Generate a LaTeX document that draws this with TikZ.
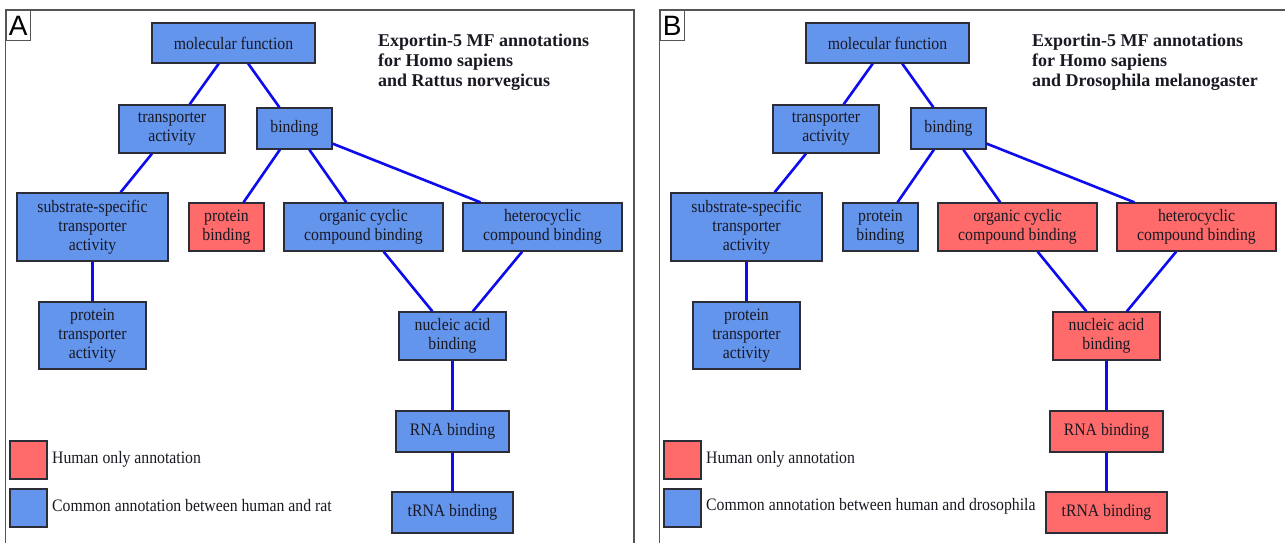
\documentclass[tikz,border=0pt]{standalone}
\usepackage{fontspec}
\setmainfont{Liberation Serif}[FakeStretch=0.9]
\newfontfamily\headfont{Liberation Serif}
\newfontfamily\panelfont{Liberation Sans}

\definecolor{commonfill}{RGB}{100,149,237}
\definecolor{humanfill}{RGB}{255,106,106}
\definecolor{edgeblue}{RGB}{12,12,238}
\definecolor{termline}{RGB}{45,45,55}
\definecolor{framegray}{RGB}{85,85,85}
\definecolor{inktext}{RGB}{25,25,35}

\tikzset{
  term/.style={draw=termline, line width=1.3pt, inner sep=0pt, align=center,
    text=inktext, font=\fontsize{17.5}{19}\selectfont},
  sharedterm/.style={term, fill=commonfill},
  humanterm/.style={term, fill=humanfill},
  link/.style={draw=edgeblue, line width=2.6pt},
  framestroke/.style={draw=framegray, line width=1.6pt},
  keybox/.style={draw=termline, line width=1.3pt, minimum width=37pt, minimum height=38pt, inner sep=0pt},
  keytext/.style={anchor=west, inner sep=0pt, text=inktext, font=\fontsize{17.5}{19}\selectfont},
  heading/.style={anchor=north west, inner sep=0pt, align=left, text=inktext,
    font=\headfont\bfseries\fontsize{18}{20}\selectfont},
}

% One GO panel: #1 style of "protein binding", #2 style of the binding subtree,
% #3 panel letter, #4 second species, #5 species word in the legend
\newcommand\gopanel[5]{%
  % frame, open at the bottom
  \draw[framestroke] (5.5,560) -- (5.5,10) -- (634,10) -- (634,560);
  \node[draw=framegray, line width=1.3pt, fill=white, anchor=north west,
        minimum width=24pt, minimum height=30pt, inner sep=0pt,
        font=\panelfont\fontsize{28}{28}\selectfont] (letter) at (5.5,10) {#3};
  \node[heading] (title) at (378,34) {Exportin-5 MF annotations\\for Homo sapiens\\and #4};
  % GO terms
  \node[sharedterm, minimum width=163pt, minimum height=40pt] (mf)   at (233.5,43)  {molecular function};
  \node[sharedterm, minimum width=106pt, minimum height=48pt] (ta)   at (172,129)   {transporter\\activity};
  \node[sharedterm, minimum width=75pt,  minimum height=41pt] (bd)   at (294.5,128.5) {binding};
  \node[sharedterm, minimum width=151pt, minimum height=68pt] (ss)   at (92.5,227)  {substrate-specific\\transporter\\activity};
  \node[#1,         minimum width=75pt,  minimum height=48pt] (pb)   at (226.5,227) {protein\\binding};
  \node[sharedterm, minimum width=107pt, minimum height=67pt] (pt)   at (92.5,335.5) {protein\\transporter\\activity};
  \node[#2,         minimum width=159pt, minimum height=48pt] (oc)   at (363.5,227) {organic cyclic\\compound binding};
  \node[#2,         minimum width=159pt, minimum height=48pt] (hc)   at (542.5,227) {heterocyclic\\compound binding};
  \node[#2,         minimum width=107pt, minimum height=48pt] (na)   at (452.5,336) {nucleic acid\\binding};
  \node[#2,         minimum width=113pt, minimum height=41pt] (rna)  at (452.5,431.5) {RNA binding};
  \node[#2,         minimum width=121pt, minimum height=41pt] (trna) at (452.5,512.5) {tRNA binding};
  % is-a links
  \draw[link] (mf) -- (ta);
  \draw[link] (mf) -- (bd);
  \draw[link] (ta) -- (ss);
  \draw[link] (ss) -- (pt);
  \draw[link] (bd) -- (pb);
  \draw[link] (bd) -- (oc);
  \draw[link] (bd) -- (hc);
  \draw[link] (oc) -- (na);
  \draw[link] (hc) -- (na);
  \draw[link] (na) -- (rna);
  \draw[link] (rna) -- (trna);
  % legend
  \node[keybox, fill=humanfill]  (keyhuman)  at (28.5,460) {};
  \node[keybox, fill=commonfill] (keycommon) at (28.5,508) {};
  \node[keytext] (keyhumantext)  at (52,459) {Human only annotation};
  \node[keytext] (keycommontext) at (52,506) {Common annotation between human and #5};
}

\begin{document}
\begin{tikzpicture}[x=1pt,y=-1pt]
  \useasboundingbox[fill=white] (0,0) rectangle (1285,543);
  \begin{scope}[name prefix=a-]
    \gopanel{humanterm}{sharedterm}{A}{Rattus norvegicus}{rat}
  \end{scope}
  \begin{scope}[xshift=654pt, name prefix=b-]
    \gopanel{sharedterm}{humanterm}{B}{Drosophila melanogaster}{drosophila}
  \end{scope}
\end{tikzpicture}
\end{document}
